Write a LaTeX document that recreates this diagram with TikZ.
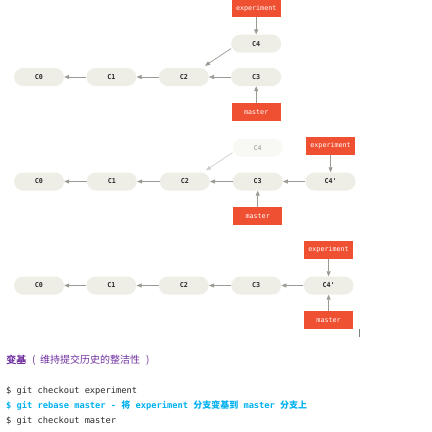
\documentclass[tikz,border=0pt]{standalone}
\usepackage{fontspec}
\setmonofont{DejaVu Sans Mono}
\newfontfamily\cjk{Noto Sans CJK SC}
\newfontfamily\cjknegrita[FakeBold=2]{Noto Sans CJK SC}
\usepackage{tikz}
\usetikzlibrary{arrows.meta, positioning}
\definecolor{gitRojo}{RGB}{240, 80, 50}
\definecolor{commitGris}{RGB}{238, 238, 230}
\definecolor{commitPalido}{RGB}{248, 248, 244}
\definecolor{flechaGris}{RGB}{155, 153, 146}
\definecolor{flechaPalida}{RGB}{205, 204, 200}
\definecolor{textoMorado}{RGB}{112, 48, 160}
\definecolor{textoCian}{RGB}{0, 176, 240}
\definecolor{textoOscuro}{RGB}{40, 40, 40}
\newcommand{\cjkcodigo}[1]{{\cjk\fontsize{9}{10}\selectfont #1}}

\tikzset{
  commit/.style={rectangle, rounded corners=9pt, fill=commitGris, minimum width=50pt,
                 minimum height=18pt, inner sep=0pt, text=textoOscuro,
                 font=\ttfamily\bfseries\fontsize{6.7}{7}\selectfont},
  commitviejo/.style={commit, fill=commitPalido, text=black!30},
  rama/.style={rectangle, fill=gitRojo, minimum width=49pt, minimum height=18pt,
               inner sep=0pt, text=white, font=\ttfamily\fontsize{6.7}{7}\selectfont},
  flecha/.style={draw=flechaGris, line width=0.7pt, -{Triangle[length=5pt, width=4pt]}},
  flechavieja/.style={flecha, draw=flechaPalida},
  linea/.style={anchor=west, inner sep=0pt, font=\ttfamily\fontsize{8.7}{10}\selectfont}
}

\begin{document}
\begin{tikzpicture}[x=1pt, y=-1pt]
  \useasboundingbox (0,0) rectangle (432,432);

  % antes del rebase
  \node[commit] (a0) at (39,77) {C0};
  \node[commit, right=22pt of a0] (a1) {C1};
  \node[commit, right=22pt of a1] (a2) {C2};
  \node[commit, right=22pt of a2] (a3) {C3};
  \node[commit, above=15pt of a3] (a4) {C4};
  \node[rama, above=17pt of a4] (aexp) {experiment};
  \node[rama, below=16.5pt of a3] (amas) {master};
  \draw[flecha] (a1) -- (a0);
  \draw[flecha] (a2) -- (a1);
  \draw[flecha] (a3) -- (a2);
  \draw[flecha] ([yshift=-5pt]a4.west) -- ([xshift=-4pt,yshift=2pt]a2.north east);
  \draw[flecha] (aexp) -- (a4);
  \draw[flecha] (amas) -- (a3);

  % despues del rebase
  \node[commit] (b0) at (39,181.5) {C0};
  \node[commit, right=22.5pt of b0] (b1) {C1};
  \node[commit, right=22.5pt of b1] (b2) {C2};
  \node[commit, right=22.5pt of b2] (b3) {C3};
  \node[commit, right=22.5pt of b3] (b4) {C4'};
  \node[commitviejo, above=15.5pt of b3] (bviejo) {C4};
  \node[rama, above=17.5pt of b4] (bexp) {experiment};
  \node[rama, below=16.5pt of b3] (bmas) {master};
  \draw[flecha] (b1) -- (b0);
  \draw[flecha] (b2) -- (b1);
  \draw[flecha] (b3) -- (b2);
  \draw[flecha] (b4) -- (b3);
  \draw[flechavieja] ([yshift=-5pt]bviejo.west) -- ([xshift=-4pt,yshift=2pt]b2.north east);
  \draw[flecha] (bexp) -- (b4);
  \draw[flecha] (bmas) -- (b3);

  % despues del merge
  \node[commit] (c0) at (39,285.5) {C0};
  \node[commit, right=22pt of c0] (c1) {C1};
  \node[commit, right=22pt of c1] (c2) {C2};
  \node[commit, right=22pt of c2] (c3) {C3};
  \node[commit, right=22pt of c3] (c4) {C4'};
  \node[rama, above=17pt of c4] (cexp) {experiment};
  \node[rama, below=16pt of c4] (cmas) {master};
  \draw[flecha] (c1) -- (c0);
  \draw[flecha] (c2) -- (c1);
  \draw[flecha] (c3) -- (c2);
  \draw[flecha] (c4) -- (c3);
  \draw[flecha] (cexp) -- (c4);
  \draw[flecha] (cmas) -- (c4);
  \draw[black!50, line width=1pt] (359,329) -- (359,336.5);

  % comandos
  \node[anchor=west, inner sep=0pt, text=textoMorado, font=\cjk\fontsize{10}{12}\selectfont]
    (titulo) at (6,360) {{\cjknegrita 变基}\hspace{6pt}(\hspace{4.5pt}维持提交历史的整洁性\hspace{6pt})};
  \node[linea, text=textoOscuro] (cmd1) at (6,391) {\$ git checkout experiment};
  \node[linea, text=textoCian, font=\ttfamily\bfseries\fontsize{8.7}{10}\selectfont] (cmd2) at (6,405.7)
    {\$ git rebase master - \cjkcodigo{将} experiment \cjkcodigo{分支变基到} master \cjkcodigo{分支上}};
  \node[linea, text=textoOscuro] (cmd3) at (6,421) {\$ git checkout master};
\end{tikzpicture}
\end{document}
